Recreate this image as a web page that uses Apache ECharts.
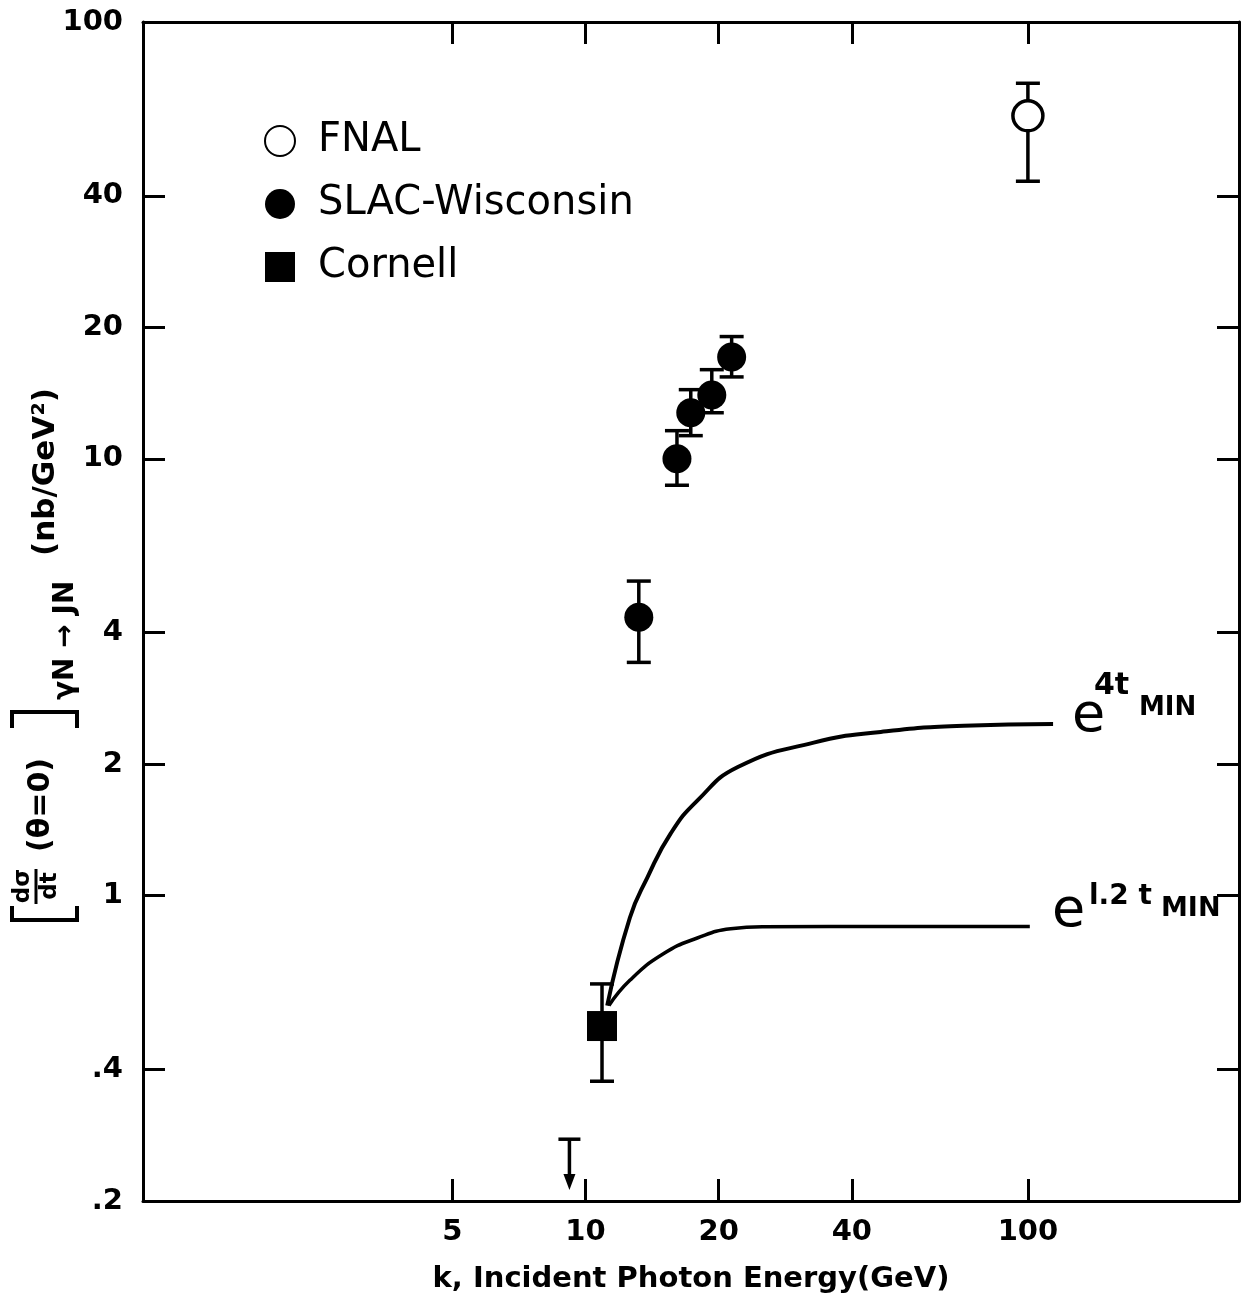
<!DOCTYPE html>
<html><head><meta charset="utf-8">
<script src="https://cdn.jsdelivr.net/npm/echarts@6/dist/echarts.min.js"></script>
<style>html,body{margin:0;padding:0;background:#fff}#c{width:1242px;height:1299px}</style>
</head><body><div id="c"></div>
<script>
// ---- data ----
const xTicks = [5, 10, 20, 40, 100];
const yTicks = [0.2, 0.4, 1, 2, 4, 10, 20, 40, 100];
// [k (GeV), value, errLow, errHigh]
const fnal = [[100, 61, 43.2, 72.4]];
const slac = [[13.2, 4.34, 3.42, 5.25], [16.1, 10.0, 8.7, 11.6], [17.3, 12.75, 11.3, 14.4], [19.3, 14.0, 12.75, 16.0], [21.4, 17.1, 15.4, 19.05]];
const cornell = [[10.9, 0.503, 0.376, 0.628]];
// [k, limit value, arrow tip]
const upperLimit = [[9.2, 0.277, 0.212]];
const curve4t = [[11.2, 0.56], [12.6, 0.89], [13.8, 1.10], [15.6, 1.39], [17.9, 1.65], [22.1, 1.97], [32.8, 2.24], [46.5, 2.37], [71.6, 2.45], [114, 2.47]];
const curve12t = [[11.3, 0.56], [12.6, 0.64], [15.0, 0.736], [17.9, 0.80], [21.3, 0.84], [25.3, 0.849], [50, 0.85], [101, 0.85]];

const FONT = 'DejaVu Sans';
const chart = echarts.init(document.getElementById('c'), null, {renderer: 'canvas'});

const lineSt = {color: '#000', width: 3};
function tickCfg(vals) { return {show: true, inside: true, length: 22, lineStyle: {color: '#000', width: 3}, customValues: vals}; }
function fmtY(v) { if (v < 1) return String(v).replace(/^0/, ''); return String(v); }

function errRender(params, api) {
  const x = api.value(0), lo = api.value(2), hi = api.value(3);
  const p1 = api.coord([x, lo]), p2 = api.coord([x, hi]);
  const cap = 12, st = {stroke: '#000', lineWidth: 3.5};
  return {type: 'group', children: [
    {type: 'line', shape: {x1: p1[0], y1: p1[1], x2: p2[0], y2: p2[1]}, style: st},
    {type: 'line', shape: {x1: p1[0] - cap, y1: p1[1], x2: p1[0] + cap, y2: p1[1]}, style: st},
    {type: 'line', shape: {x1: p2[0] - cap, y1: p2[1], x2: p2[0] + cap, y2: p2[1]}, style: st}
  ]};
}
function limitRender(params, api) {
  const x = api.value(0), hi = api.value(1), tip = api.value(2);
  const p1 = api.coord([x, hi]), p2 = api.coord([x, tip]);
  const st = {stroke: '#000', lineWidth: 3.5};
  return {type: 'group', children: [
    {type: 'line', shape: {x1: p1[0] - 11, y1: p1[1], x2: p1[0] + 11, y2: p1[1]}, style: st},
    {type: 'line', shape: {x1: p1[0], y1: p1[1], x2: p2[0], y2: p2[1] - 10}, style: st},
    {type: 'polygon', shape: {points: [[p2[0] - 6, p2[1] - 16], [p2[0] + 6, p2[1] - 16], [p2[0], p2[1]]]}, style: {fill: '#000'}}
  ]};
}

const brSt = {stroke: '#000', lineWidth: 4, fill: null};
const option = {
  animation: false,
  backgroundColor: '#fff',
  grid: {left: 143, right: 3, top: 22, bottom: 96, containLabel: false},
  legend: {
    orient: 'vertical', left: 259, top: 116, itemWidth: 30, itemHeight: 30, itemGap: 23,
    textStyle: {fontFamily: FONT, fontSize: 40, color: '#000', padding: [0, 0, 0, 18]},
    data: [{name: 'FNAL', icon: 'circle'}, {name: 'SLAC-Wisconsin', icon: 'circle'}, {name: 'Cornell', icon: 'rect'}]
  },
  xAxis: [
    {type: 'log', logBase: 10, min: 1, max: 300, position: 'bottom',
     axisLine: {show: true, lineStyle: lineSt}, splitLine: {show: false}, minorTick: {show: false},
     axisTick: tickCfg(xTicks),
     axisLabel: {customValues: xTicks, fontFamily: FONT, fontSize: 29, fontWeight: 'bold', color: '#000', margin: 17},
     name: 'k, Incident Photon Energy(GeV)', nameLocation: 'middle', nameGap: 64,
     nameTextStyle: {fontFamily: FONT, fontSize: 29, fontWeight: 'bold', color: '#000'}},
    {type: 'log', logBase: 10, min: 1, max: 300, position: 'top',
     axisLine: {show: true, lineStyle: lineSt}, splitLine: {show: false}, minorTick: {show: false},
     axisTick: tickCfg(xTicks), axisLabel: {show: false}}
  ],
  yAxis: [
    {type: 'log', logBase: 10, min: 0.2, max: 100, position: 'left',
     axisLine: {show: true, lineStyle: lineSt}, splitLine: {show: false}, minorTick: {show: false},
     axisTick: tickCfg(yTicks),
     axisLabel: {customValues: yTicks, formatter: fmtY, fontFamily: FONT, fontSize: 29, fontWeight: 'bold', color: '#000', margin: 20}},
    {type: 'log', logBase: 10, min: 0.2, max: 100, position: 'right',
     axisLine: {show: true, lineStyle: lineSt}, splitLine: {show: false}, minorTick: {show: false},
     axisTick: tickCfg(yTicks), axisLabel: {show: false}}
  ],
  series: [
    {type: 'custom', name: 'errFNAL', renderItem: errRender, data: fnal, encode: {x: 0, y: [1, 2, 3]}, z: 2, silent: true},
    {type: 'custom', name: 'errSLAC', renderItem: errRender, data: slac, encode: {x: 0, y: [1, 2, 3]}, z: 2, silent: true},
    {type: 'custom', name: 'errCornell', renderItem: errRender, data: cornell, encode: {x: 0, y: [1, 2, 3]}, z: 2, silent: true},
    {type: 'custom', name: 'limit', renderItem: limitRender, data: upperLimit, encode: {x: 0, y: [1, 2]}, z: 2, silent: true},
    {type: 'line', name: 'e4t', data: curve4t, smooth: 0.5, symbol: 'none', lineStyle: {color: '#000', width: 4}, z: 3},
    {type: 'line', name: 'e12t', data: curve12t, smooth: 0.5, symbol: 'none', lineStyle: {color: '#000', width: 3.5}, z: 3},
    {type: 'scatter', name: 'FNAL', data: fnal.map(d => [d[0], d[1]]), symbol: 'circle', symbolSize: 30,
     itemStyle: {color: '#fff', borderColor: '#000', borderWidth: 3.5, opacity: 1}, z: 5},
    {type: 'scatter', name: 'SLAC-Wisconsin', data: slac.map(d => [d[0], d[1]]), symbol: 'circle', symbolSize: 29,
     itemStyle: {color: '#000', opacity: 1}, z: 5},
    {type: 'scatter', name: 'Cornell', data: cornell.map(d => [d[0], d[1]]), symbol: 'rect', symbolSize: 30,
     itemStyle: {color: '#000', opacity: 1}, z: 5}
  ],
  graphic: [
    // curve labels
    {type: 'text', left: 1072, top: 690, style: {text: 'e', font: '54px "DejaVu Sans"', fill: '#000'}},
    {type: 'text', left: 1094, top: 671, style: {text: '4t', font: 'bold 30px "DejaVu Sans"', fill: '#000'}},
    {type: 'text', left: 1139, top: 695, style: {text: 'MIN', font: 'bold 26px "DejaVu Sans"', fill: '#000'}},
    {type: 'text', left: 1052, top: 885, style: {text: 'e', font: '54px "DejaVu Sans"', fill: '#000'}},
    {type: 'text', left: 1089, top: 883, style: {text: 'l.2 t', font: 'bold 28px "DejaVu Sans"', fill: '#000'}},
    {type: 'text', left: 1161, top: 895, style: {text: 'MIN', font: 'bold 27px "DejaVu Sans"', fill: '#000'}},
    // y-axis title (rotated)
    {type: 'group', x: 40, y: 648, rotation: Math.PI / 2, children: [
      {type: 'polyline', shape: {points: [[-258, -28], [-272, -28], [-272, 37], [-258, 37]]}, style: brSt},
      {type: 'text', x: -238, y: -17, style: {text: 'dσ', font: 'bold 23px "DejaVu Sans"', fill: '#000', verticalAlign: 'middle', align: 'center'}},
      {type: 'line', shape: {x1: -256, y1: -4, x2: -221, y2: -4}, style: {stroke: '#000', lineWidth: 3}},
      {type: 'text', x: -238, y: 10, style: {text: 'dt', font: 'bold 23px "DejaVu Sans"', fill: '#000', verticalAlign: 'middle', align: 'center'}},
      {type: 'text', x: -204, y: 1, style: {text: '(θ=0)', font: 'bold 30px "DejaVu Sans"', fill: '#000', verticalAlign: 'middle', align: 'left'}},
      {type: 'polyline', shape: {points: [[-80, -28], [-64, -28], [-64, 37], [-80, 37]]}, style: brSt},
      {type: 'text', x: -52, y: 26, style: {text: 'γN → JN', font: 'bold 28px "DejaVu Sans"', fill: '#000', verticalAlign: 'middle', align: 'left'}},
      {type: 'text', x: 92, y: 6, style: {text: '(nb/GeV²)', font: 'bold 31px "DejaVu Sans"', fill: '#000', verticalAlign: 'middle', align: 'left'}}
    ]}
  ]
};
chart.setOption(option);
</script>
</body></html>
